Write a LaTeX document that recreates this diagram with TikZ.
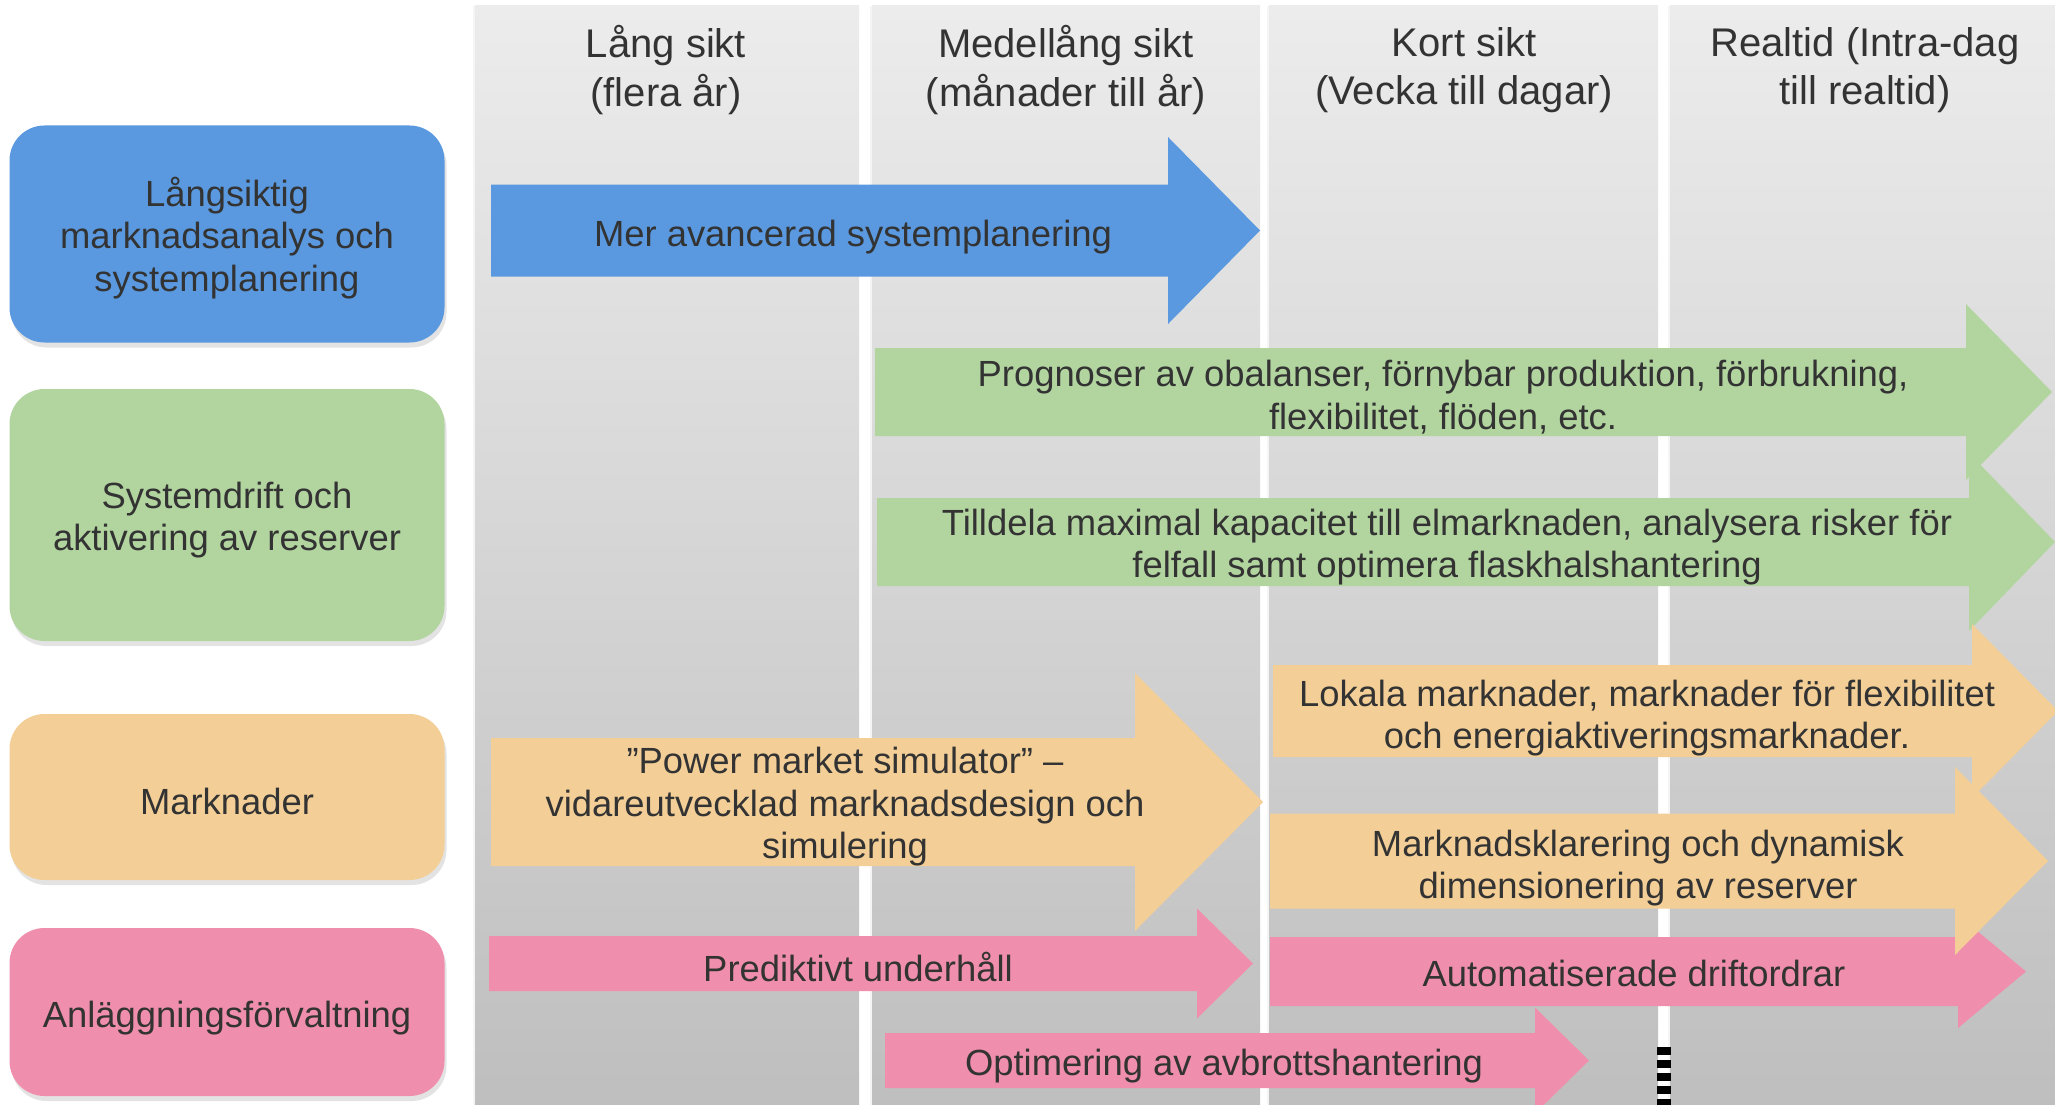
\documentclass[tikz,border=0pt]{standalone}
\usepackage{fontspec}
\setmainfont{Liberation Sans}
\usetikzlibrary{shadows}
\definecolor{cblue}{HTML}{5A99DF}
\definecolor{cgreen}{HTML}{B2D5A0}
\definecolor{corange}{HTML}{F3CF97}
\definecolor{cpink}{HTML}{F08FAD}
\definecolor{txt}{HTML}{333333}
\definecolor{coltop}{HTML}{ECECEC}
\definecolor{colbot}{HTML}{BEBEBE}
\tikzset{
  lbl/.style={font=\fontsize{36.4}{42.5}\selectfont, text=txt, align=center, inner sep=0pt},
  hdr/.style={lbl, font=\fontsize{40}{48.5}\selectfont},
  catbox/.style={rounded corners=35pt, minimum width=435pt, inner sep=0pt,
    drop shadow={shadow xshift=2pt, shadow yshift=-5pt, opacity=0.22}},
  colbg/.style={top color=coltop, bottom color=colbot,
    drop shadow={shadow xshift=-2pt, shadow yshift=0pt, opacity=0.08}},
  dashbar/.style={line width=14pt, dash pattern=on 7.5pt off 5.5pt, black}
}
% #1 colour, #2 left x, #3 head x, #4 tip x, #5 centre y, #6 body half height, #7 head half height
\newcommand\BArrow[7]{\fill[#1] (#2,#5-#6) -- (#3,#5-#6) -- (#3,#5-#7) -- (#4,#5) -- (#3,#5+#7) -- (#3,#5+#6) -- (#2,#5+#6) -- cycle;}
\begin{document}
\begin{tikzpicture}[x=1pt,y=-1pt]
\useasboundingbox (0,0) rectangle (2055,1105);
\clip (0,0) rectangle (2055,1105);
\fill[white] (0,0) rectangle (2055,1105);
% columns
\shade[colbg] (475,6) rectangle (859,1110);
\shade[colbg] (872,6) rectangle (1260,1110);
\shade[colbg] (1269,6) rectangle (1658,1110);
\shade[colbg] (1670,6) rectangle (2070,1110);
\node[hdr] (h1) at (666,70) {Lång sikt\\(flera år)};
\node[hdr] (h2) at (1066,70) {Medellång sikt\\(månader till år)};
\node[hdr] (h3) at (1464,70) {Kort sikt\\(Vecka till dagar)};
\node[hdr] (h4) at (1865,70) {Realtid (Intra-dag\\till realtid)};
% dashed marker
\coordinate (dtop) at (1664,1047);
\coordinate (dbot) at (1664,1110);
\draw[dashbar] (dtop) -- (dbot);
% category boxes
\node[catbox, fill=cblue, minimum height=217pt] (cat1) at (227,234) {};
\node[catbox, fill=cgreen, minimum height=252pt] (cat2) at (227,515) {};
\node[catbox, fill=corange, minimum height=166pt] (cat3) at (227,797) {};
\node[catbox, fill=cpink, minimum height=168pt] (cat4) at (227,1012) {};
\node[lbl] (cat1t) at (227,238) {Långsiktig\\marknadsanalys och\\systemplanering};
\node[lbl] (cat2t) at (227,520) {Systemdrift och\\aktivering av reserver};
\node[lbl] (cat3t) at (227,801) {Marknader};
\node[lbl] (cat4t) at (227,1018) {Anläggningsförvaltning};
% block arrows
\BArrow{cblue}{491}{1168}{1260}{230.5}{46}{93.5}
\BArrow{cgreen}{875}{1966}{2052}{392}{44}{88}
\BArrow{cgreen}{877}{1969}{2055}{542}{44}{89}
\BArrow{cpink}{489}{1197}{1253}{963.5}{27.5}{55}
\BArrow{cpink}{1270}{1958}{2026}{971.5}{34.5}{56.5}
\BArrow{cpink}{885}{1535}{1589}{1060.5}{27.5}{53}
\BArrow{corange}{491}{1135}{1263}{802}{64}{129}
\BArrow{corange}{1273}{1972}{2058}{711}{46}{87}
\BArrow{corange}{1270}{1955}{2048}{861}{47.5}{94}
% arrow texts
\node[lbl] (t1) at (853,237) {Mer avancerad systemplanering};
\node[lbl] (t2) at (1443,397) {Prognoser av obalanser, förnybar produktion, förbrukning,\\flexibilitet, flöden, etc.};
\node[lbl] (t3) at (1447,547) {Tilldela maximal kapacitet till elmarknaden, analysera risker för\\felfall samt optimera flaskhalshantering};
\node[lbl] (t4) at (845,807) {”Power market simulator” –\\vidareutvecklad marknadsdesign och\\simulering};
\node[lbl] (t5) at (1647,718) {Lokala marknader, marknader för flexibilitet\\och energiaktiveringsmarknader.};
\node[lbl] (t6) at (1638,868) {Marknadsklarering och dynamisk\\dimensionering av reserver};
\node[lbl] (t7) at (858,967) {Prediktivt underhåll};
\node[lbl] (t8) at (1634,973) {Automatiserade driftordrar};
\node[lbl] (t9) at (1224,1066) {Optimering av avbrottshantering};
\end{tikzpicture}
\end{document}
